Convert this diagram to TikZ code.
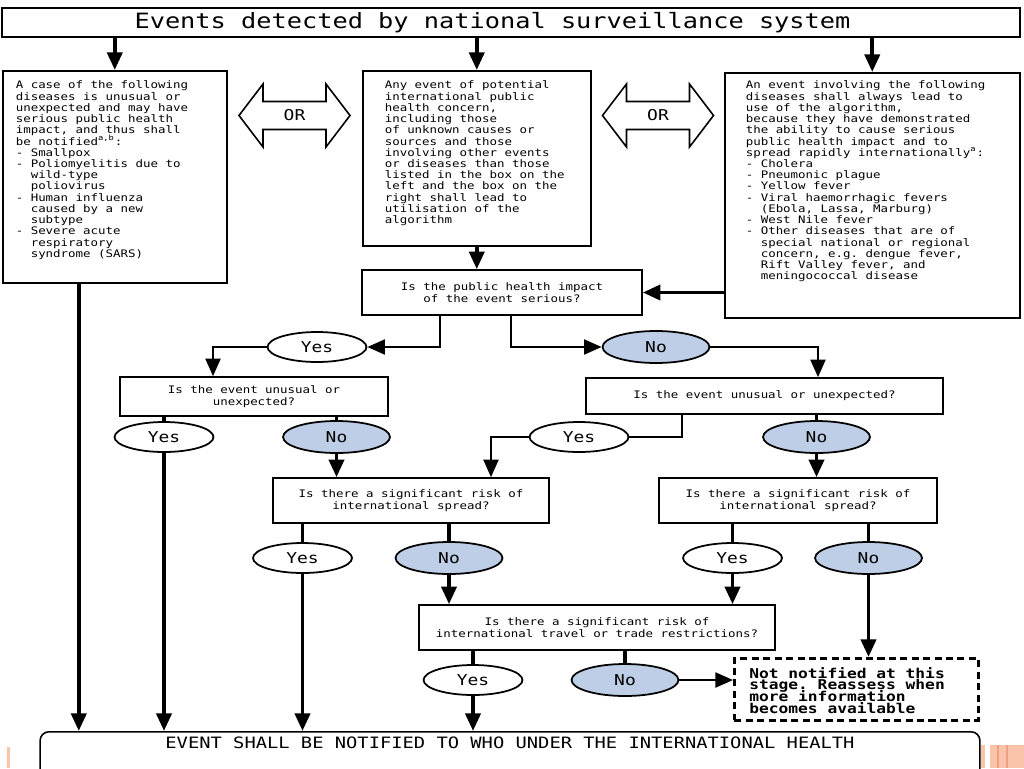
\documentclass[tikz,border=0pt]{standalone}
\usepackage{fontspec}
\setmonofont{DejaVu Sans Mono}
\newfontfamily\widett[FakeStretch=1.2]{DejaVu Sans Mono}
\usepackage{tikz}
\usetikzlibrary{arrows.meta,shapes.geometric}

\definecolor{nofill}{RGB}{190,206,230}
\definecolor{peach}{RGB}{249,196,170}
\definecolor{peachdark}{RGB}{238,160,128}
\newcommand{\bodyfont}{\widett\fontsize{5.9}{6.4}\selectfont\frenchspacing\lineskiplimit=-20pt\relax}
\newcommand{\laterfont}{\widett\bfseries\fontsize{7.7}{6.6}\selectfont\frenchspacing\lineskiplimit=-20pt\relax}

\begin{document}
\begin{tikzpicture}[x=0.02cm,y=-0.02cm,
			arr/.style={-{Triangle[length=10pt,width=8.5pt]},line width=2.2pt},
			elbow/.style={-{Triangle[length=10pt,width=8.5pt]},line width=1.3pt},
			link/.style={line width=2.2pt},
			thinlink/.style={line width=1.3pt},
			infobox/.style={draw,line width=0.9pt,anchor=north west,align=flush left,
				inner ysep=0.1cm,text height=0.26cm,font=\bodyfont},
			qbox/.style={draw,line width=0.9pt,align=center,inner sep=0pt,
				font=\widett\fontsize{5.9}{6.6}\selectfont},
			yes/.style={draw,ellipse,line width=1pt,fill=white,inner sep=0pt,
				minimum width=1.98cm,minimum height=0.6cm,font=\widett\fontsize{8.5}{10}\selectfont},
			no/.style={yes,fill=nofill,minimum width=2.14cm,minimum height=0.64cm}]
			\useasboundingbox (0,0) rectangle (1024,768);
			\clip (0,0) rectangle (1024,768);
			% header and the three entry boxes
			\node[draw,line width=0.9pt,minimum width=20.36cm,minimum height=0.58cm,inner sep=0pt,
				font=\widett\fontsize{12}{14}\selectfont] (title) at (511,22.5)
				{Events detected by national surveillance system\rule{0.74cm}{0pt}};
			\node[infobox,text width=3.96cm,inner xsep=0.26cm,text depth=3.78cm] (disA) at (2,70)
				{A case of the following\\
				diseases is unusual or\\
				unexpected and may have\\
				serious public health\\
				impact, and thus shall\\
				be notified\textsuperscript{a,b}:\\
				- Smallpox\\
				- Poliomyelitis due to\\
				\hphantom{-~}wild-type\\
				\hphantom{-~}poliovirus\\
				- Human influenza\\
				\hphantom{-~}caused by a new\\
				\hphantom{-~}subtype\\
				- Severe acute\\
				\hphantom{-~}respiratory\\
				\hphantom{-~}syndrome (SARS)};
			\node[infobox,text width=3.68cm,inner xsep=0.44cm,text depth=3.04cm] (anyev) at (362,70)
				{Any event of potential\\
				international public\\
				health concern,\\
				including those\\
				of unknown causes or\\
				sources and those\\
				involving other events\\
				or diseases than those\\
				listed in the box on the\\
				left and the box on the\\
				right shall lead to\\
				utilisation of the\\
				algorithm};
			\node[infobox,text width=5.06cm,inner xsep=0.42cm,text height=0.22cm,text depth=4.48cm] (always) at (724,72)
				{An event involving the following\\
				diseases shall always lead to\\
				use of the algorithm,\\
				because they have demonstrated\\
				the ability to cause serious\\
				public health impact and to\\
				spread rapidly internationally\textsuperscript{a}:\\
				- Cholera\\
				- Pneumonic plague\\
				- Yellow fever\\
				- Viral haemorrhagic fevers\\
				\hphantom{-~}(Ebola, Lassa, Marburg)\\
				- West Nile fever\\
				- Other diseases that are of\\
				\hphantom{-~}special national or regional\\
				\hphantom{-~}concern, e.g. dengue fever,\\
				\hphantom{-~}Rift Valley fever, and\\
				\hphantom{-~}meningococcal disease};
			% OR arrows
			\node[font=\widett\fontsize{8.5}{10}\selectfont] (orL) at (294.5,115.5) {OR};
			\node[font=\widett\fontsize{8.5}{10}\selectfont] (orR) at (658,115.5) {OR};
			\draw[shift={(orL.center)},line width=0.9pt] (-55.5,0) -- (-31.5,-31.5) -- (-31.5,-14) -- (31.5,-14)
				-- (31.5,-31.5) -- (55.5,0) -- (31.5,31.5) -- (31.5,14) -- (-31.5,14) -- (-31.5,31.5) -- cycle;
			\draw[shift={(orR.center)},line width=0.9pt] (-55.5,0) -- (-31.5,-31.5) -- (-31.5,-14) -- (31.5,-14)
				-- (31.5,-31.5) -- (55.5,0) -- (31.5,31.5) -- (31.5,14) -- (-31.5,14) -- (-31.5,31.5) -- cycle;
			% questions
			\node[qbox,minimum width=5.6cm,minimum height=0.9cm] (serious) at (502,292.5)
				{Is the public health impact\\of the event serious?};
			\node[qbox,minimum width=5.36cm,minimum height=0.78cm] (unusL) at (254,396.5)
				{Is the event unusual or\\unexpected?};
			\node[qbox,minimum width=7.14cm,minimum height=0.72cm] (unusR) at (764.5,396)
				{Is the event unusual or unexpected?};
			\node[qbox,minimum width=5.52cm,minimum height=0.9cm] (spreadL) at (411,500.5)
				{Is there a significant risk of\\international spread?};
			\node[qbox,minimum width=5.56cm,minimum height=0.9cm] (spreadR) at (798,500.5)
				{Is there a significant risk of\\international spread?};
			\node[qbox,minimum width=7.12cm,minimum height=0.9cm] (travel) at (597,627.5)
				{Is there a significant risk of\\international travel or trade restrictions?};
			% answers
			\node[yes] (yesA) at (317,347) {Yes};
			\node[no] (noA) at (656,347) {No};
			\node[yes] (yesB) at (164,437) {Yes};
			\node[no] (noB) at (336.5,437) {No};
			\node[yes] (yesC) at (579,437) {Yes};
			\node[no] (noC) at (816.5,437) {No};
			\node[yes] (yesD) at (302.5,558) {Yes};
			\node[no] (noD) at (449,558) {No};
			\node[yes] (yesE) at (732.5,558) {Yes};
			\node[no] (noE) at (868.5,558) {No};
			\node[yes] (yesF) at (473,680) {Yes};
			\node[no] (noF) at (625,680) {No};
			% outcomes
			\node[infobox,dashed,line width=1.5pt,dash pattern=on 4pt off 2.5pt,text width=4.28cm,inner xsep=0.3cm,
				text height=0.3cm,text depth=0.74cm,font=\laterfont] (later) at (733,657)
				{Not notified at this\\
				stage. Reassess when\\
				more information\\
				becomes available};
			\node[draw,line width=0.9pt,rounded corners=5pt,anchor=north,minimum width=18.8cm,inner ysep=0.08cm,
				text height=0.26cm,text depth=1cm,font=\widett\fontsize{8.9}{10}\selectfont] (notify) at (510,731)
				{EVENT SHALL BE NOTIFIED TO WHO UNDER THE INTERNATIONAL HEALTH};
			% connectors
			\draw[arr] (title.south -| disA.north) -- (disA.north);
			\draw[arr] (title.south -| anyev.north) -- (anyev.north);
			\draw[arr] (title.south -| always.north) -- (always.north);
			\draw[arr] (anyev.south) -- (anyev.south |- serious.north);
			\draw[arr] (always.west |- serious.east) -- (serious.east);
			\draw[elbow] ([xshift=-1.24cm]serious.south) |- (yesA.east);
			\draw[elbow] ([xshift=0.18cm]serious.south) |- (noA.west);
			\draw[elbow] (yesA.west) -| ([xshift=-0.82cm]unusL.north);
			\draw[elbow] (noA.east) -| ([xshift=1.07cm]unusR.north);
			\draw[link] (yesB.north |- unusL.south) -- (yesB.north);
			\draw[link] (noB.north |- unusL.south) -- (noB.north);
			\draw[arr] (yesB.south) -- (yesB.south |- notify.north);
			\draw[arr] (noB.south) -- (noB.south |- spreadL.north);
			\draw[thinlink] ([xshift=-1.65cm]unusR.south) |- (yesC.east);
			\draw[elbow] (yesC.west) -| ([xshift=1.6cm]spreadL.north);
			\draw[link] (noC.north |- unusR.south) -- (noC.north);
			\draw[arr] (noC.south) -- (noC.south |- spreadR.north);
			\draw[arr] ([xshift=-0.72cm]disA.south) -- ([xshift=-0.72cm]disA.south |- notify.north);
			\draw[link] (yesD.north |- spreadL.south) -- (yesD.north);
			\draw[link] (noD.north |- spreadL.south) -- (noD.north);
			\draw[arr] (yesD.south) -- (yesD.south |- notify.north);
			\draw[arr] (noD.south) -- (noD.south |- travel.north);
			\draw[link] (yesE.north |- spreadR.south) -- (yesE.north);
			\draw[link] (noE.north |- spreadR.south) -- (noE.north);
			\draw[arr] (yesE.south) -- (yesE.south |- travel.north);
			\draw[arr] (noE.south) -- (noE.south |- later.north);
			\draw[link] (yesF.north |- travel.south) -- (yesF.north);
			\draw[link] (noF.north |- travel.south) -- (noF.north);
			\draw[arr] (yesF.south) -- (yesF.south |- notify.north);
			\draw[elbow] (noF.east) -- (noF.east -| later.west);
			% page decoration
			\fill[peach] (7,747) rectangle (10,768);
			\fill[peach] (981,745) rectangle (985,768);
			\fill[peach] (990,745) rectangle (1024,768);
			\draw[peachdark,line width=0.6pt] (998,745) -- (998,768) (1007,745) -- (1007,768);
		\end{tikzpicture}
\end{document}
